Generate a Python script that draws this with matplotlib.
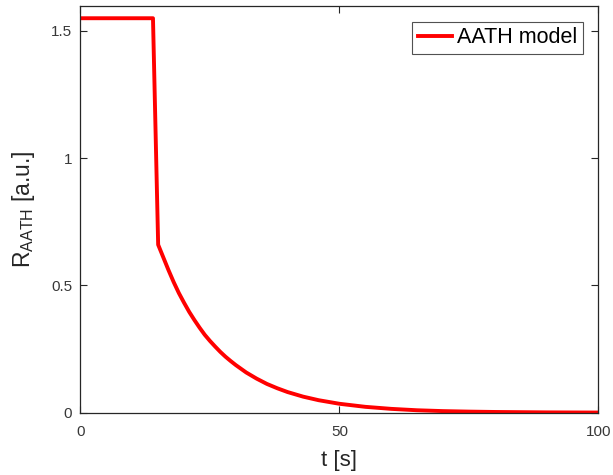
import matplotlib
matplotlib.use('Agg')
import matplotlib.pyplot as plt

plt.rcParams['font.family'] = ['Liberation Sans', 'DejaVu Sans']
plt.rcParams['mathtext.default'] = 'regular'

# resistance trace: flat, sharp drop, then decay towards zero
t_s = [0, 14, 15, 16, 17, 18, 19, 20, 21, 22, 23, 24, 25, 26, 27, 28, 29,
       30, 32, 34, 36, 38, 40, 43, 46, 50, 55, 60, 65, 70, 75, 80, 90, 100]
r_aath = [1.55, 1.55, 0.66, 0.61, 0.56, 0.513, 0.47, 0.432, 0.396, 0.364,
          0.334, 0.306, 0.282, 0.26, 0.239, 0.22, 0.203, 0.187, 0.158, 0.134,
          0.113, 0.096, 0.081, 0.063, 0.049, 0.035, 0.023, 0.015, 0.0095,
          0.0062, 0.0042, 0.0028, 0.0012, 0.0005]

x_ticks = [0, 50, 100]
y_ticks = [0, 0.5, 1, 1.5]
y_ticklabels = ['0', '0.5', '1', '1.5']

grey = '#262626'

fig = plt.figure(figsize=(6.13, 4.75), dpi=100)
ax = fig.add_axes([0.1313, 0.1312, 0.8447, 0.8572])

ax.plot(t_s, r_aath, color='#ff0000', lw=2.8, label='AATH model',
        solid_joinstyle='round')

ax.set_xlim(0, 100)
ax.set_ylim(0, 1.6)
ax.set_xticks(x_ticks)
ax.set_yticks(y_ticks)
ax.set_yticklabels(y_ticklabels)

for sp in ax.spines.values():
    sp.set_color(grey)
    sp.set_linewidth(0.9)
ax.tick_params(direction='in', length=5, width=0.8, colors=grey,
               labelcolor='#383838', labelsize=11, top=True, right=True)
ax.tick_params(axis='x', pad=9)
ax.tick_params(axis='y', pad=6)

ax.set_xlabel('t [s]', fontsize=16, color=grey, labelpad=8)
ax.set_ylabel('R$_{AATH}$ [a.u.]', fontsize=16.5, color=grey, labelpad=10)

leg = ax.legend(loc='upper right', fontsize=15.5, frameon=True, fancybox=False,
                handlelength=1.6, handletextpad=0.25, borderpad=0.25,
                borderaxespad=0.0, bbox_to_anchor=(0.9705, 0.9595))
leg.get_frame().set_edgecolor(grey)
leg.get_frame().set_linewidth(0.8)

fig.savefig('out.png', dpi=100)
